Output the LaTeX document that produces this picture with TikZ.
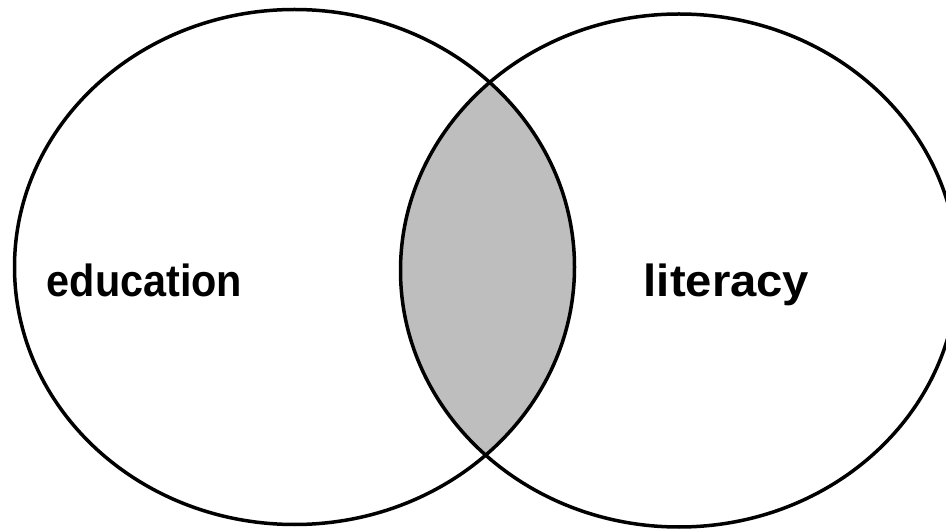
\documentclass[tikz,border=0pt]{standalone}
\usepackage{fontspec}
\setmainfont{Liberation Sans}
\tikzset{
  ring/.style={draw=black, line width=3.5pt},
  lens/.style={fill=lensgray},
  setlabel/.style={font=\fontsize{45}{50}\selectfont\bfseries, anchor=base, inner sep=0pt}
}
\definecolor{lensgray}{RGB}{190,190,190}
\begin{document}
\begin{tikzpicture}[x=1pt,y=-1pt]
\useasboundingbox (0,0) rectangle (946,529);
\fill[white] (0,0) rectangle (946,529);
\clip (0,0) rectangle (946,529);
\begin{scope}
  \clip (294.5,267) ellipse [x radius=280, y radius=257.5];
  \fill[lens] (679,270.5) ellipse [x radius=278.5, y radius=256.5];
\end{scope}
\draw[ring] (294.5,267) ellipse [x radius=280, y radius=257.5];
\draw[ring] (679,270.5) ellipse [x radius=278.5, y radius=256.5];
\node[setlabel, xscale=0.92] (edu) at (144.5,297) {education};
\node[setlabel, xscale=1.05] (lit) at (726.5,297) {literacy};
\end{tikzpicture}
\end{document}
